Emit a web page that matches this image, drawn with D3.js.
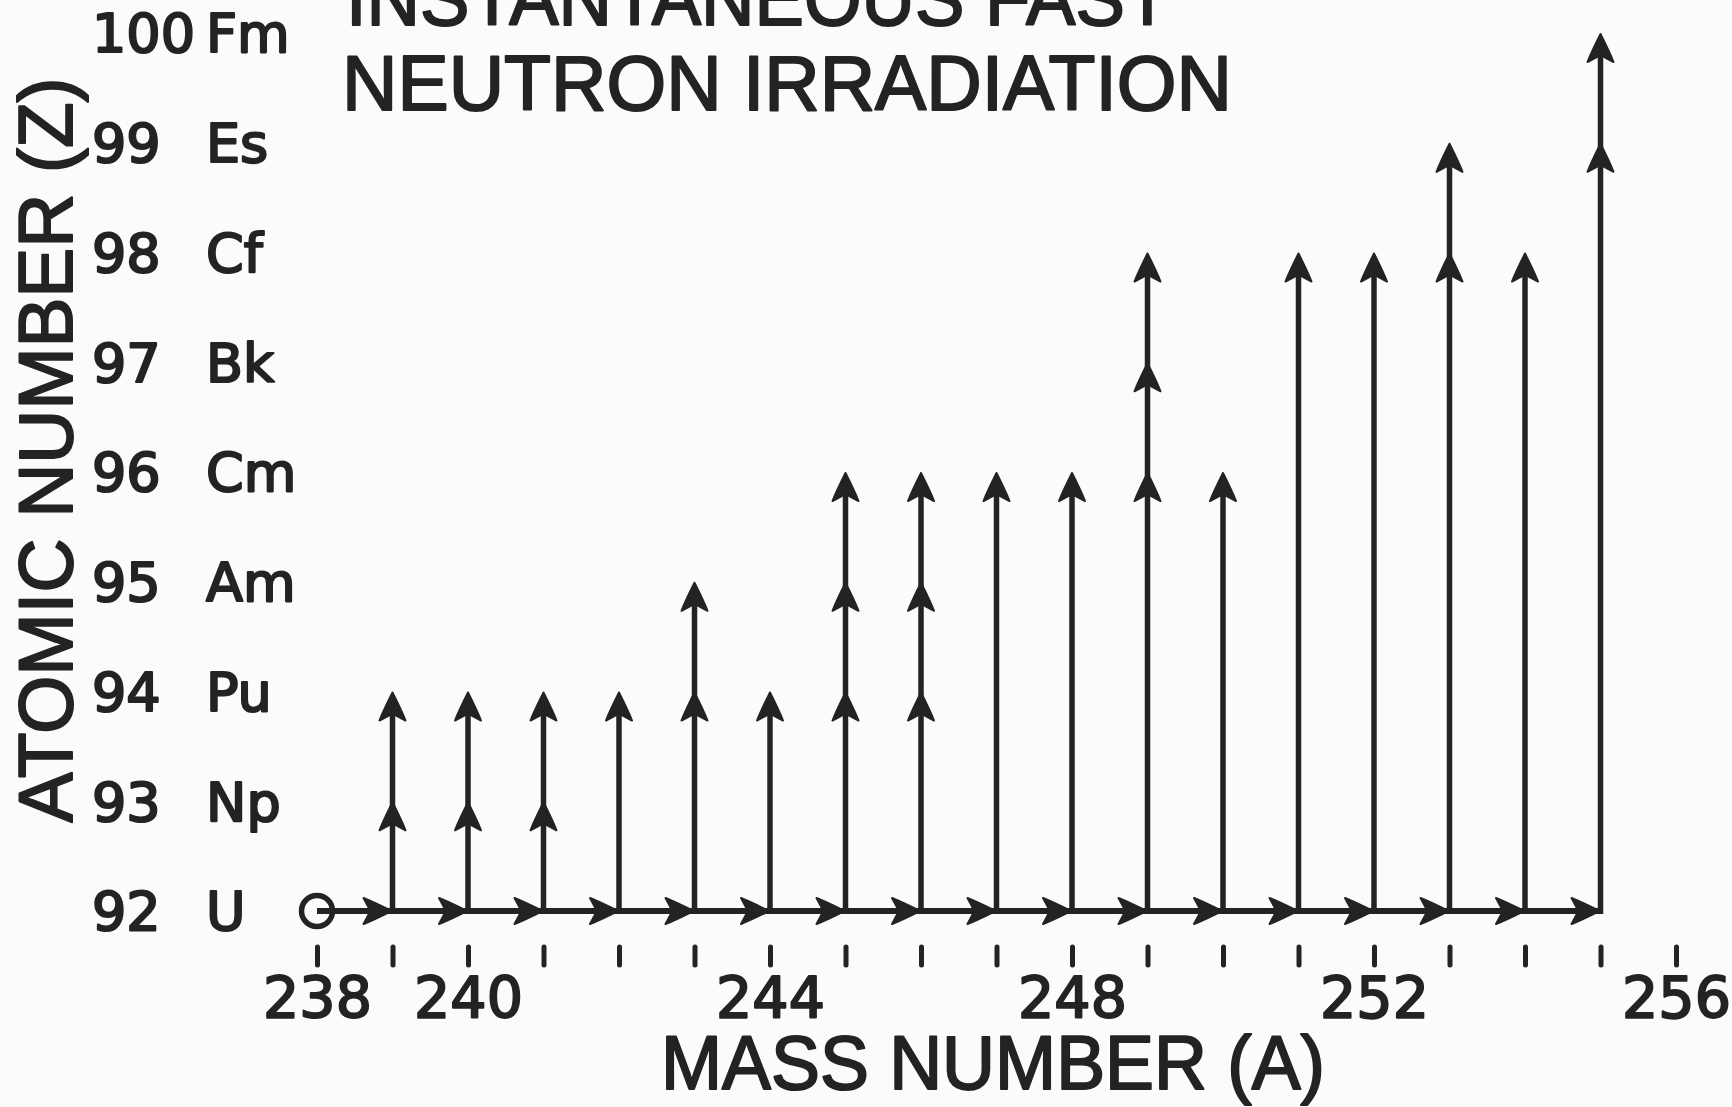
<!DOCTYPE html>
<html>
<head>
<meta charset="utf-8">
<script src="https://cdn.jsdelivr.net/npm/d3@7"></script>
<style>
  html, body { margin: 0; padding: 0; background: #fbfbfa; }
  svg { display: block; }
  text { fill: #232323; stroke: #232323; stroke-linejoin: round; }
</style>
</head>
<body>
<svg id="chart" width="1732" height="1107"></svg>
<script>
// Instantaneous fast neutron irradiation of U-238: capture chain along A,
// beta-decay chains up in Z for each mass number.

const massNumbers = [239, 240, 241, 242, 243, 244, 245, 246, 247, 248, 249, 250, 251, 252, 253, 254, 255];
const topZ        = [94, 94, 94, 94, 95, 94, 96, 96, 96, 96, 98, 96, 98, 98, 99, 98, 100];
const firstHeadZ  = [93, 93, 93, 94, 94, 94, 94, 94, 96, 96, 96, 96, 98, 98, 98, 98, 99];

const zLevels   = [92, 93, 94, 95, 96, 97, 98, 99, 100];
const zSymbols  = ["U", "Np", "Pu", "Am", "Cm", "Bk", "Cf", "Es", "Fm"];
const massTicks = d3.range(238, 257);
const massLabels = [238, 240, 244, 248, 252, 256];
const startMass = 238;

const INK = "#232323";
const svg = d3.select("#chart");

const x = d3.scaleLinear().domain([238, 256]).range([317, 1676]);
const y = d3.scaleLinear().domain([92, 100]).range([911, 33]);

// barbed arrowhead, tip at origin pointing up
const HEAD = "M0,0 C-4,8 -9,18 -13,28 L0,21 L13,28 C9,18 4,8 0,0 Z";

// ── titles ───────────────────────────────────────────────────────────────

const title = svg.append("g")
  .attr("font-family", "'Liberation Sans', Arial, sans-serif")
  .attr("font-size", 78)
  .attr("stroke-width", 2);
title.append("text").attr("x", 346).attr("y", 25)
  .attr("textLength", 824).attr("lengthAdjust", "spacingAndGlyphs")
  .text("INSTANTANEOUS FAST");
title.append("text").attr("x", 342).attr("y", 110)
  .attr("textLength", 890).attr("lengthAdjust", "spacingAndGlyphs")
  .text("NEUTRON IRRADIATION");

svg.append("text")
  .attr("font-family", "'Liberation Sans', Arial, sans-serif")
  .attr("font-size", 76)
  .attr("stroke-width", 2)
  .attr("text-anchor", "middle")
  .attr("transform", "translate(72,450) rotate(-90)")
  .attr("textLength", 745).attr("lengthAdjust", "spacingAndGlyphs")
  .text("ATOMIC NUMBER (Z)");

svg.append("text")
  .attr("font-family", "'Liberation Sans', Arial, sans-serif")
  .attr("font-size", 76)
  .attr("stroke-width", 2)
  .attr("text-anchor", "middle")
  .attr("x", 993).attr("y", 1089)
  .attr("textLength", 664).attr("lengthAdjust", "spacingAndGlyphs")
  .text("MASS NUMBER (A)");

// ── y labels: Z number + element symbol ──────────────────────────────────

const ylab = svg.append("g")
  .attr("font-family", "'DejaVu Sans', sans-serif")
  .attr("font-size", 54)
  .attr("stroke-width", 2.2);
zLevels.forEach((z, i) => {
  ylab.append("text").attr("x", 92).attr("y", y(z)).attr("dy", "0.36em").text(z);
  ylab.append("text").attr("x", 206).attr("y", y(z)).attr("dy", "0.36em").text(zSymbols[i]);
});

// ── x axis: detached ticks under the chain ───────────────────────────────

const xAxis = d3.axisBottom(x)
  .tickValues(massTicks)
  .tickSize(18)
  .tickPadding(13)
  .tickFormat(d => massLabels.includes(d) ? d : "");

const gx = svg.append("g").attr("transform", "translate(0,947)").call(xAxis);
gx.select(".domain").remove();
gx.selectAll(".tick line").attr("stroke", INK).attr("stroke-width", 5).attr("stroke-linecap", "round");
gx.selectAll(".tick text").filter(d => !massLabels.includes(d)).remove();
gx.selectAll(".tick text")
  .attr("font-family", "'DejaVu Sans', sans-serif")
  .attr("font-size", 57)
  .attr("fill", INK)
  .attr("stroke", INK)
  .attr("stroke-width", 2);

// ── chains ───────────────────────────────────────────────────────────────

const marks = svg.append("g");
const baseY = y(92);
const lastMass = massNumbers[massNumbers.length - 1];

// neutron capture line along Z = 92
marks.append("line")
  .attr("x1", x(startMass)).attr("x2", x(lastMass))
  .attr("y1", baseY).attr("y2", baseY)
  .attr("stroke", INK).attr("stroke-width", 6);
marks.append("circle")
  .attr("cx", x(startMass)).attr("cy", baseY).attr("r", 15.5)
  .attr("fill", "none").attr("stroke", INK).attr("stroke-width", 5.5);

marks.selectAll("path.capture")
  .data(massNumbers)
  .join("path")
  .attr("class", "capture")
  .attr("d", HEAD)
  .attr("fill", INK).attr("stroke", INK).attr("stroke-width", 2).attr("stroke-linejoin", "round")
  .attr("transform", d => `translate(${x(d) - 1},${baseY}) rotate(90)`);

// beta decay chains
massNumbers.forEach((a, i) => {
  marks.append("line")
    .attr("x1", x(a)).attr("x2", x(a))
    .attr("y1", baseY + 3).attr("y2", y(topZ[i]) + 6)
    .attr("stroke", INK).attr("stroke-width", 5.5);
  const heads = d3.range(firstHeadZ[i], topZ[i] + 1);
  marks.selectAll(null)
    .data(heads)
    .join("path")
    .attr("d", HEAD)
    .attr("fill", INK).attr("stroke", INK).attr("stroke-width", 2).attr("stroke-linejoin", "round")
    .attr("transform", z => `translate(${x(a)},${y(z) + 1})`);
});
</script>
</body>
</html>
